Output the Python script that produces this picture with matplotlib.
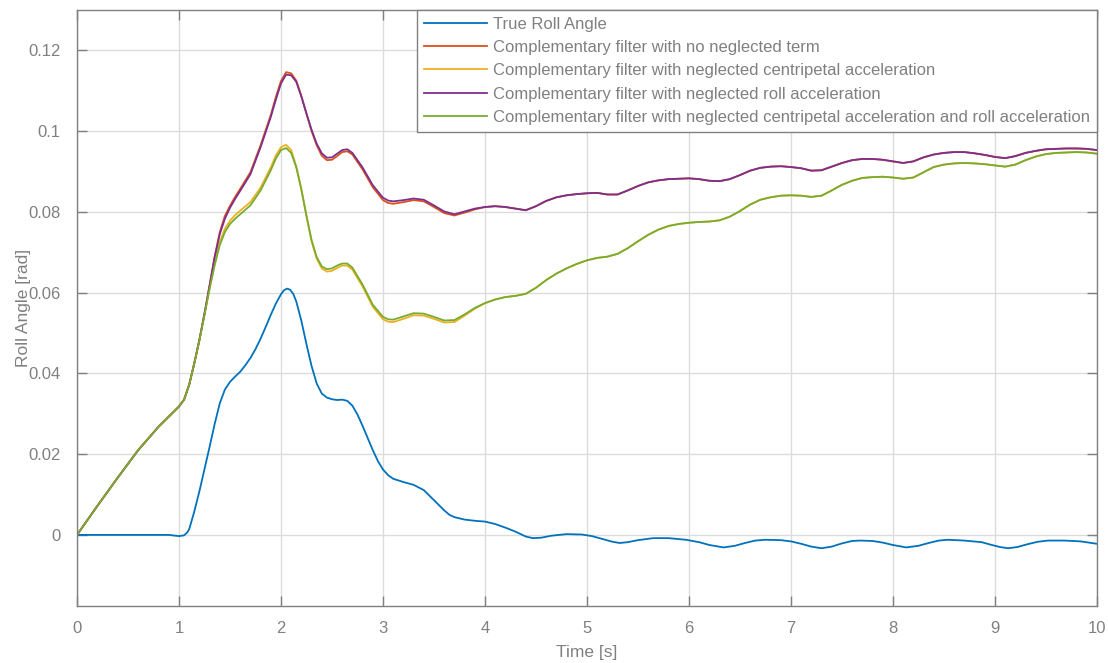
import numpy as np
import matplotlib.pyplot as plt
from matplotlib.ticker import FuncFormatter

# ---- data ----
t_true = [0, 0.5, 0.9, 1.0, 1.05, 1.08, 1.1, 1.15, 1.2, 1.25, 1.3, 1.35, 1.4, 1.45,
          1.5, 1.55, 1.6, 1.65, 1.7, 1.75, 1.8, 1.85, 1.9, 1.95, 2.0, 2.03, 2.06,
          2.09, 2.12, 2.15, 2.2, 2.25, 2.3, 2.35, 2.4, 2.45, 2.5, 2.55, 2.6, 2.65,
          2.7, 2.75, 2.8, 2.85, 2.9, 2.95, 3.0, 3.05, 3.1, 3.2, 3.3, 3.4, 3.5, 3.6,
          3.65, 3.7, 3.8, 3.9, 4.0, 4.1, 4.2, 4.3, 4.4, 4.47, 4.55, 4.65, 4.8, 4.95,
          5.05, 5.15, 5.25, 5.32, 5.4, 5.5, 5.65, 5.8, 5.97, 6.1, 6.2, 6.34, 6.45,
          6.55, 6.65, 6.75, 6.9, 7.0, 7.1, 7.2, 7.3, 7.4, 7.5, 7.6, 7.68, 7.8, 7.9,
          8.0, 8.13, 8.25, 8.35, 8.45, 8.54, 8.7, 8.87, 8.97, 9.05, 9.13, 9.22, 9.32,
          9.42, 9.52, 9.68, 9.84, 10.0]
true_roll = [0, 0, 0, -0.0003, -0.0001, 0.0006, 0.0014, 0.0058, 0.0108, 0.0163, 0.0218,
             0.0275, 0.0326, 0.0360, 0.0379, 0.0392, 0.0404, 0.0420, 0.0438, 0.0460,
             0.0486, 0.0515, 0.0545, 0.0573, 0.0596, 0.0606, 0.0610, 0.0607, 0.0597,
             0.0578, 0.0530, 0.0472, 0.0418, 0.0375, 0.0350, 0.0340, 0.0336, 0.0334,
             0.0335, 0.0332, 0.0320, 0.0298, 0.0270, 0.0240, 0.0210, 0.0183, 0.0162,
             0.0148, 0.0139, 0.0131, 0.0124, 0.0111, 0.0086, 0.0061, 0.0050, 0.0044,
             0.0038, 0.0035, 0.0033, 0.0027, 0.0018, 0.0008, -0.0004, -0.0008, -0.0007,
             -0.0002, 0.0002, 0.0001, -0.0003, -0.0010, -0.0017, -0.0020, -0.0018,
             -0.0013, -0.0008, -0.0008, -0.0012, -0.0018, -0.0025, -0.0031, -0.0027,
             -0.0020, -0.0014, -0.0012, -0.0013, -0.0016, -0.0022, -0.0029, -0.0033,
             -0.0029, -0.0021, -0.0015, -0.0014, -0.0015, -0.0019, -0.0025, -0.0031,
             -0.0027, -0.0020, -0.0014, -0.0012, -0.0014, -0.0018, -0.0025, -0.0030,
             -0.0033, -0.0030, -0.0023, -0.0017, -0.0014, -0.0014, -0.0016, -0.0022]

t_filt = [0, 0.2, 0.4, 0.6, 0.8, 1.0, 1.05, 1.1, 1.15, 1.2, 1.25, 1.3, 1.35, 1.4,
          1.45, 1.5, 1.55, 1.6, 1.7, 1.8, 1.9, 1.95, 2.0, 2.05, 2.1, 2.15, 2.2, 2.25,
          2.3, 2.35, 2.4, 2.45, 2.5, 2.55, 2.6, 2.65, 2.7, 2.8, 2.9, 3.0, 3.05, 3.1,
          3.2, 3.3, 3.4, 3.5, 3.6, 3.7, 3.8, 3.9,
          4.0, 4.1, 4.2, 4.3, 4.4, 4.5, 4.6, 4.7, 4.8, 4.9, 5.0, 5.1, 5.2, 5.3, 5.4,
          5.5, 5.6, 5.7, 5.8, 5.9, 6.0, 6.1, 6.2, 6.3, 6.4, 6.5, 6.6, 6.7, 6.8, 6.9,
          7.0, 7.1, 7.2, 7.3, 7.4, 7.5, 7.6, 7.7, 7.8, 7.9, 8.0, 8.1, 8.2, 8.3, 8.4,
          8.5, 8.6, 8.7, 8.8, 8.9, 9.0, 9.1, 9.2, 9.3, 9.4, 9.5, 9.6, 9.7, 9.8, 9.9,
          10.0]

# t = 0 .. 3.9 (curves differ slightly here)
no_neglect_head = [0, 0.0072, 0.0142, 0.021, 0.0268, 0.0318, 0.0335, 0.0372, 0.0425,
                   0.0483, 0.0548, 0.0618, 0.0690, 0.0750, 0.0790, 0.0815, 0.0837,
                   0.0857, 0.0898, 0.0965, 0.1040, 0.1085, 0.1124, 0.1146, 0.1143,
                   0.1125, 0.1087, 0.1043, 0.1000, 0.0965, 0.0939, 0.0928, 0.0929,
                   0.0938, 0.0948, 0.0950, 0.0942, 0.0905, 0.0861, 0.0829, 0.0822,
                   0.0820, 0.0824, 0.0829, 0.0826, 0.0812, 0.0797, 0.0791, 0.0798,
                   0.0806]
roll_neglect_head = [0, 0.0072, 0.0142, 0.021, 0.0268, 0.0318, 0.0335, 0.0372, 0.0425,
                     0.0483, 0.0548, 0.0618, 0.0688, 0.0745, 0.0783, 0.0810, 0.0832,
                     0.0852, 0.0893, 0.0960, 0.1035, 0.1078, 0.1118, 0.1140, 0.1138,
                     0.1122, 0.1085, 0.1043, 0.1003, 0.0969, 0.0945, 0.0934, 0.0935,
                     0.0944, 0.0953, 0.0955, 0.0946, 0.0910, 0.0866, 0.0835, 0.0828,
                     0.0826, 0.0829, 0.0833, 0.0830, 0.0816, 0.0801, 0.0794, 0.0801,
                     0.0808]
centripetal_neglect_head = [0, 0.0072, 0.0142, 0.021, 0.0268, 0.0318, 0.0335, 0.0372,
                            0.0425, 0.0482, 0.0545, 0.0610, 0.0672, 0.0725, 0.0758,
                            0.0778, 0.0792, 0.0803, 0.0824, 0.0860, 0.0910, 0.0940,
                            0.0960, 0.0966, 0.0953, 0.0913, 0.0856, 0.0789, 0.0727,
                            0.0684, 0.0660, 0.0652, 0.0654, 0.0661, 0.0667, 0.0667,
                            0.0657, 0.0615, 0.0565, 0.0534, 0.0528, 0.0527, 0.0535,
                            0.0544, 0.0543, 0.0535, 0.0526, 0.0527, 0.0543, 0.0560]
both_neglect_head = [0, 0.0072, 0.0142, 0.021, 0.0268, 0.0318, 0.0335, 0.0372, 0.0425,
                     0.0482, 0.0545, 0.0610, 0.0668, 0.0718, 0.0750, 0.0770, 0.0783,
                     0.0794, 0.0816, 0.0853, 0.0903, 0.0932, 0.0953, 0.0958, 0.0946,
                     0.0910, 0.0855, 0.0790, 0.0730, 0.0688, 0.0665, 0.0658, 0.0660,
                     0.0667, 0.0672, 0.0672, 0.0662, 0.0620, 0.0570, 0.0540, 0.0534,
                     0.0533, 0.0541, 0.0549, 0.0548, 0.0540, 0.0531, 0.0532, 0.0546,
                     0.0562]

# t = 4.0 .. 10 (pairs coincide here)
upper_tail = [0.0812, 0.0814, 0.0812, 0.0808, 0.0804, 0.0814, 0.0827, 0.0836, 0.0841,
              0.0844, 0.0846, 0.0847, 0.0843, 0.0843, 0.0853, 0.0864, 0.0873, 0.0878,
              0.0881, 0.0882, 0.0883, 0.0881, 0.0877, 0.0876, 0.0881, 0.0891, 0.0902,
              0.0909, 0.0912, 0.0913, 0.0911, 0.0908, 0.0902, 0.0903, 0.0912, 0.0921,
              0.0928, 0.0931, 0.0931, 0.0929, 0.0925, 0.0921, 0.0925, 0.0935, 0.0942,
              0.0946, 0.0948, 0.0948, 0.0945, 0.0941, 0.0936, 0.0933, 0.0938, 0.0946,
              0.0951, 0.0955, 0.0956, 0.0957, 0.0957, 0.0956, 0.0953]
lower_tail = [0.0574, 0.0583, 0.0589, 0.0592, 0.0597, 0.0612, 0.0631, 0.0647, 0.0660,
              0.0671, 0.0680, 0.0686, 0.0689, 0.0696, 0.0710, 0.0727, 0.0743, 0.0756,
              0.0765, 0.0770, 0.0773, 0.0775, 0.0776, 0.0779, 0.0788, 0.0802, 0.0818,
              0.0830, 0.0836, 0.0840, 0.0841, 0.0840, 0.0837, 0.0840, 0.0853, 0.0867,
              0.0877, 0.0884, 0.0886, 0.0887, 0.0885, 0.0882, 0.0885, 0.0898, 0.0911,
              0.0917, 0.0920, 0.0921, 0.0920, 0.0918, 0.0915, 0.0912, 0.0917, 0.0928,
              0.0937, 0.0943, 0.0946, 0.0947, 0.0948, 0.0947, 0.0944]

no_neglect = no_neglect_head + upper_tail
roll_neglect = roll_neglect_head + upper_tail
centripetal_neglect = centripetal_neglect_head + lower_tail
both_neglect = both_neglect_head + lower_tail

labels = ["True Roll Angle",
          "Complementary filter with no neglected term",
          "Complementary filter with neglected centripetal acceleration",
          "Complementary filter with neglected roll acceleration",
          "Complementary filter with neglected centripetal acceleration and roll acceleration"]
colors = ["#0072BD", "#D95319", "#EDB120", "#7E2F8E", "#77AC30"]

plt.rcParams['font.family'] = ['Liberation Sans', 'DejaVu Sans']
gray = "#808080"

fig = plt.figure(figsize=(11.08, 6.63), dpi=100)
ax = fig.add_axes([0.0695, 0.086, 0.9205, 0.899])

series = [(t_true, true_roll), (t_filt, no_neglect), (t_filt, centripetal_neglect),
          (t_filt, roll_neglect), (t_filt, both_neglect)]
for (t, y), c, lab in zip(series, colors, labels):
    ax.plot(t, y, color=c, linewidth=1.3, label=lab)

ax.set_xlim(0, 10)
ax.set_ylim(-0.0176, 0.13)
ax.set_xticks(np.arange(0, 11, 1))
ax.set_yticks([0, 0.02, 0.04, 0.06, 0.08, 0.1, 0.12])
ax.yaxis.set_major_formatter(FuncFormatter(lambda v, p: f"{v:g}"))

ax.grid(True, color="#dcdcdc", linewidth=1.0)
ax.set_axisbelow(True)
for s in ax.spines.values():
    s.set_color(gray)
    s.set_linewidth(1.0)
ax.tick_params(direction='in', top=True, right=True, length=7, width=1.0,
               colors=gray, labelsize=12, pad=11)
ax.tick_params(axis='y', pad=12)

ax.set_xlabel("Time [s]", color=gray, fontsize=12.5, labelpad=6)
ax.set_ylabel("Roll Angle [rad]", color=gray, fontsize=12.5, labelpad=-2)

leg = ax.legend(loc="upper right", fontsize=12, frameon=True, fancybox=False,
                borderaxespad=0.0, handlelength=3.8, handletextpad=0.35,
                labelspacing=0.5, borderpad=0.4, labelcolor=gray)
leg.get_frame().set_edgecolor(gray)
leg.get_frame().set_linewidth(1.0)
leg.get_frame().set_alpha(1.0)

fig.savefig("out.png", dpi=100)
